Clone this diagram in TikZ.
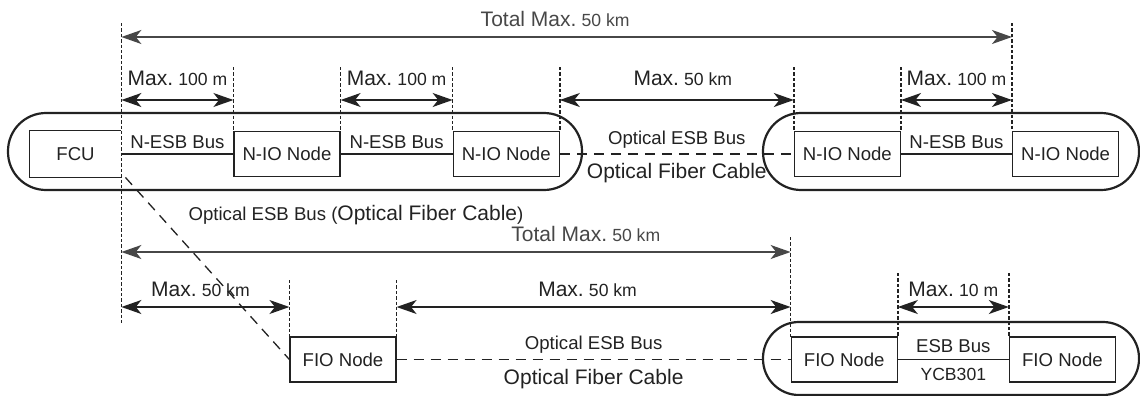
\documentclass[tikz,border=0pt]{standalone}
\usepackage{fontspec}
\setmainfont{Liberation Sans}
\usetikzlibrary{arrows.meta,positioning}
\definecolor{ink}{HTML}{222222}
\definecolor{totgray}{HTML}{474747}
\newcommand{\bigf}{\fontsize{10.5}{12}\selectfont}
\newcommand{\smallf}{\fontsize{8.8}{10}\selectfont}
\newcommand{\maxlen}[1]{{\bigf Max.}\ {\smallf #1}}

\begin{document}
\begin{tikzpicture}[x=0.5pt,y=-0.5pt,font=\fontsize{9.3}{11}\selectfont,text=ink,
 box/.style={draw=ink,line width=0.6pt,minimum width=53pt,minimum height=22.5pt,inner sep=1pt},
 loop/.style={draw=ink,line width=1.1pt,rounded corners=19pt},
 dim/.style={ink,line width=0.75pt,dash pattern=on 1.7pt off 1pt},
 arr/.style={{Stealth[length=10pt,width=7pt,inset=2.8pt]}-{Stealth[length=10pt,width=7pt,inset=2.8pt]},line width=0.75pt,ink},
 tot/.style={arr,totgray},
 bus/.style={ink,line width=0.6pt},
 opt/.style={ink,line width=0.65pt,dash pattern=on 5pt off 3.5pt},
 lbl/.style={inner sep=2.2pt}]
\useasboundingbox (0,0) rectangle (1140,396);
% loops
\draw[loop] (8,113) rectangle (582,190); \draw[loop] (763,113) rectangle (1139,190);
\draw[loop,rounded corners=18pt] (763,322) rectangle (1139,395);
% nodes
\node[minimum width=45.5pt,minimum height=23pt,inner sep=1pt] (fcu) at (75.5,154) {FCU};
\node[box,right=56pt of fcu] (nio1) {N-IO Node}; \node[box,right=56pt of nio1] (nio2) {N-IO Node};
\node[box,right=117pt of nio2] (nio3) {N-IO Node}; \node[box,right=55.5pt of nio3] (nio4) {N-IO Node};
\node[box] (fio1) at (343,359.5) {FIO Node}; \node[box,right=197pt of fio1] (fio2) {FIO Node}; \node[box,right=55.5pt of fio2] (fio3) {FIO Node};
\node[lbl] (diaglbl) at (356,215) {Optical ESB Bus ({\bigf Optical Fiber Cable})};
\draw[bus] (fcu.north east) -| (fcu.south west) -- (fcu.south east);
% buses
\draw[bus] (fcu) -- node[lbl,above]{N-ESB Bus} (nio1); \draw[bus] (nio1) -- node[lbl,above]{N-ESB Bus} (nio2); \draw[bus] (nio3) -- node[lbl,above]{N-ESB Bus} (nio4);
\draw[opt] (nio2) -- node[lbl,above=0.5pt]{Optical ESB Bus} node[lbl,below=2pt,font=\bigf]{Optical Fiber Cable} (nio3);
\draw[opt] (fio1) -- node[lbl,above=0.5pt]{Optical ESB Bus} node[lbl,below=2.5pt,font=\bigf]{Optical Fiber Cable} (fio2);
\draw[bus] (fio2) -- node[lbl,above=1pt]{ESB Bus} node[lbl,below=2pt,font=\smallf]{YCB301} (fio3);
\draw[opt] ([xshift=2pt]fcu.south east) -- (fio1.west);
% dimension lines
\foreach \n/\a/\b in {fcu.east/23/325,nio1.west/67/130,nio1.east/67/130,nio2.west/67/130,nio2.east/67/130,nio3.west/67/130,nio3.east/67/130,nio4.west/23/130,fio1.west/280/337,fio1.east/280/337,fio2.west/237/337,fio2.east/273/337,fio3.west/273/337}
  \draw[dim] (\n |- 0,\a) -- (\n |- 0,\b);
\draw[tot] (fcu.east |- 0,37) -- node[lbl,above=2.5pt,pos=0.487]{{\bigf Total Max.}\ {\smallf 50 km}} (nio4.west |- 0,37);
\draw[arr] (fcu.east |- 0,100) -- node[lbl,above=4.5pt]{\maxlen{100 m}} (nio1.west |- 0,100);
\draw[arr] (nio1.east |- 0,100) -- node[lbl,above=4.5pt]{\maxlen{100 m}} (nio2.west |- 0,100);
\draw[arr] (nio2.east |- 0,100) -- node[lbl,above=4.5pt,xshift=3pt]{\maxlen{50 km}} (nio3.west |- 0,100);
\draw[arr] (nio3.east |- 0,100) -- node[lbl,above=4.5pt]{\maxlen{100 m}} (nio4.west |- 0,100);
\draw[tot] (fcu.east |- 0,252) -- node[lbl,above=2.5pt,pos=0.694]{{\bigf Total Max.}\ {\smallf 50 km}} (fio2.west |- 0,252);
\draw[arr] (fcu.east |- 0,307) -- node[lbl,above=2.5pt,xshift=-2.5pt]{\maxlen{50 km}} (fio1.west |- 0,307);
\draw[arr] (fio1.east |- 0,307) -- node[lbl,above=2.5pt,xshift=-3pt]{\maxlen{50 km}} (fio2.west |- 0,307);
\draw[arr] (fio2.east |- 0,307) -- node[lbl,above=2.5pt]{\maxlen{10 m}} (fio3.west |- 0,307);
\end{tikzpicture}
\end{document}
